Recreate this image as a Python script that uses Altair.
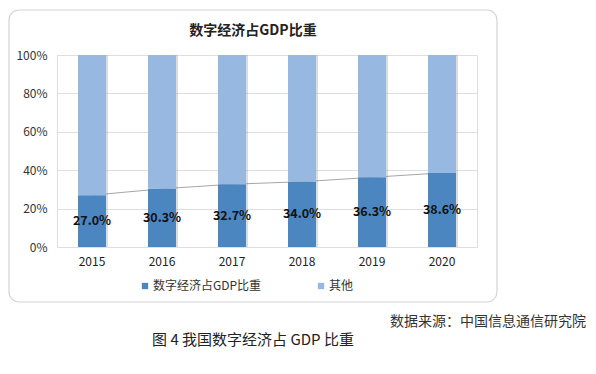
import altair as alt
import pandas as pd

years = ["2015", "2016", "2017", "2018", "2019", "2020"]
digital = [27.0, 30.3, 32.7, 34.0, 36.3, 38.6]
other = [73.0, 69.7, 67.3, 66.0, 63.7, 61.4]
series_names = ["数字经济占GDP比重", "其他"]
colors = ["#4C86C0", "#96B8E1"]
title_text = "数字经济占GDP比重"
source_text = "数据来源：中国信息通信研究院"
caption_text = "图 4  我国数字经济占 GDP 比重"
y_ticks = [0, 20, 40, 60, 80, 100]

FONT = "Noto Sans CJK SC"

rows = []
for i, y in enumerate(years):
    rows.append({"year": y, "series": series_names[0], "value": digital[i], "order": 0})
    rows.append({"year": y, "series": series_names[1], "value": other[i], "order": 1})
long_df = pd.DataFrame(rows)
dig_df = pd.DataFrame({"year": years, "digital": digital,
                       "label": [f"{v:.1f}%" for v in digital],
                       "total": [d + o for d, o in zip(digital, other)]})

xscale = alt.Scale(domain=years, paddingInner=0.6, paddingOuter=0.3)
yscale = alt.Scale(domain=[0, 100])

yaxis = alt.Axis(title=None, values=y_ticks, labelExpr="datum.value + '%'",
                 ticks=False, domain=False, labelPadding=10, labelFontSize=12,
                 labelColor="#333333", labelFont=FONT, gridColor="#dedede",
                 gridWidth=1, labelOverlap=False, labelFlush=False)

xenc = alt.X("year:N", scale=xscale, sort=years,
             axis=alt.Axis(title=None, labelAngle=0, ticks=False, domain=False,
                           labelPadding=9, labelFontSize=12, labelColor="#222222",
                           labelFont=FONT, grid=False))

frame = alt.Chart(pd.DataFrame({"a": [0]})).mark_rect(
    filled=False, stroke="#d4d4d4", strokeWidth=1.2, cornerRadius=10
).encode(x=alt.value(-48), x2=alt.value(440), y=alt.value(-45), y2=alt.value(247))

shadow = alt.Chart(dig_df).mark_bar(color="#8a8a8a", opacity=0.3, xOffset=2).encode(
    x=xenc,
    y=alt.Y("total:Q", scale=yscale, axis=yaxis),
)

bars = alt.Chart(long_df).mark_bar().encode(
    x=xenc,
    y=alt.Y("value:Q", stack="zero", scale=yscale, axis=yaxis),
    color=alt.Color("series:N", scale=alt.Scale(domain=series_names, range=colors),
                    legend=alt.Legend(title=None, orient="none", legendX=82, legendY=225,
                                      direction="horizontal", symbolType="square",
                                      symbolSize=40, labelFontSize=12, labelFont=FONT,
                                      labelColor="#333333", columnPadding=53,
                                      labelOffset=2, symbolStrokeWidth=0)),
    order=alt.Order("order:Q"),
)

line = alt.Chart(dig_df).mark_line(color="#a6a6a6", strokeWidth=1).encode(
    x=xenc, y=alt.Y("digital:Q", scale=yscale, axis=yaxis)
)

labels = alt.Chart(dig_df).transform_calculate(mid="datum.digital / 2").mark_text(
    fontWeight="bold", fontSize=12.5, color="#111111", font=FONT
).encode(x=xenc, y=alt.Y("mid:Q", scale=yscale, axis=yaxis), text="label:N")

title = alt.Chart(pd.DataFrame({"t": [title_text]})).mark_text(
    fontWeight="bold", fontSize=14, color="#222222", font=FONT
).encode(x=alt.value(196), y=alt.value(-24), text="t:N")

source = alt.Chart(pd.DataFrame({"t": [source_text]})).mark_text(
    fontSize=14, color="#333333", font=FONT, align="right"
).encode(x=alt.value(529), y=alt.value(267), text="t:N")

caption = alt.Chart(pd.DataFrame({"t": [caption_text]})).mark_text(
    fontSize=15, color="#222222", font=FONT
).encode(x=alt.value(196), y=alt.value(285), text="t:N")

chart = alt.layer(frame, line, shadow, bars, labels, title, source, caption).properties(
    width=420, height=192,
    autosize=alt.AutoSizeParams(type="none"),
    padding={"left": 49, "top": 47, "right": 111, "bottom": 115},
).configure_view(stroke=None).configure(background="white")

chart.save("out.html", embed_options={"renderer": "svg", "actions": False})
